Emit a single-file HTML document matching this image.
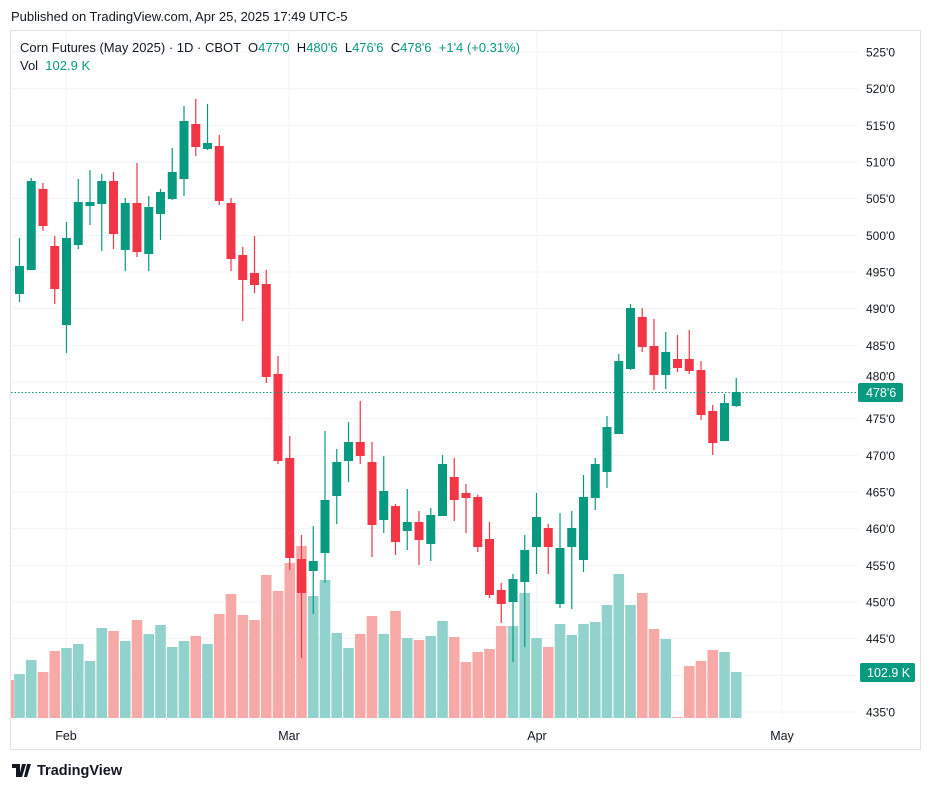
<!DOCTYPE html>
<html><head><meta charset="utf-8">
<style>
html,body{margin:0;padding:0;background:#fff;width:932px;height:789px;overflow:hidden;font-family:"Liberation Sans",sans-serif;}
svg{position:absolute;left:0;top:0}
</style></head><body>
<svg id="s" width="932" height="789" xmlns="http://www.w3.org/2000/svg" font-family="Liberation Sans, sans-serif"></svg>
<script>
const C=[
[266,294,238,302,1,674],[181,270,178,270,1,660],[189,226,183,231,0,672],[246,289,236,304,0,651],
[238,325,222,353,1,648],[202,245,179,249,1,644],[202,206,170,225,1,661],[181,204,174,251,1,628],
[181,234,172,249,0,631],[203,250,198,271,1,641],[203,252,163,257,0,620],[207,254,196,271,1,634],
[192,214,189,240,1,625],[172,199,148,200,1,647],[121,179,106,196,1,641],[124,147,99,156,0,636],
[143,149,104,150,1,644],[146,201,135,205,0,614],[203,259,198,271,0,594],[255,280,247,321,0,615],
[273,285,236,293,0,620],[284,377,270,383,0,575],[374,461,356,464,0,591],[458,558,436,570,0,563],
[559,593,535,658,0,546],[561,571,526,614,1,596],[500,553,431,583,1,580],[462,496,449,524,1,633],
[442,461,422,482,1,648],[442,456,401,464,0,634],[462,525,442,557,0,616],[491,520,456,533,1,634],
[506,542,504,555,0,611],[522,531,489,550,1,638],[522,540,511,565,0,640],[515,544,508,561,1,636],
[464,516,455,516,1,621],[477,500,458,521,0,637],[493,498,484,533,0,662],[497,547,495,552,0,652],
[539,595,522,598,0,649],[590,604,583,623,0,626],[579,602,574,662,1,626],[550,582,535,647,1,593],
[517,547,493,574,1,638],[528,547,524,574,0,647],[548,604,513,608,1,624],[528,547,511,609,1,635],
[497,560,475,572,1,624],[464,498,458,510,1,622],[427,472,416,488,1,605],[361,434,354,434,1,574],
[308,369,304,370,1,605],[317,347,308,352,0,593],[346,375,319,390,0,629],[352,375,332,389,1,639],
[359,368,335,372,0,717],[359,371,330,374,0,666],[370,415,361,420,0,661],[411,443,405,455,0,650],
[403,441,394,441,1,652],[392,406,378,407,1,672]];
let h='';
h+='<rect x="10.5" y="30.5" width="910" height="719" fill="none" stroke="#e0e3eb"/>';
for(let i=0;i<=18;i++){let p=525-5*i,y=52+i*36.667;
 h+=`<line x1="11" x2="858" y1="${y}" y2="${y}" stroke="#f0f3fa"/>`;
 if(p!=480&&p!=440) h+=`<text x="866" y="${y+4.5}" font-size="12" fill="#131722">${p}'0</text>`;}
h+=`<text x="866" y="${52+9*36.667+4.5-6}" font-size="12" fill="#131722">480'0</text>`;
[66,289,537,782].forEach((x,i)=>{h+=`<line x1="${x}" x2="${x}" y1="31" y2="718" stroke="#f0f3fa"/>`;
 h+=`<text x="${x}" y="740" font-size="12.5" fill="#131722" text-anchor="middle">${['Feb','Mar','Apr','May'][i]}</text>`;});
h+='<rect x="11" y="680" width="3" height="38" fill="#f7a9a7"/>';
C.forEach((c,i)=>{const x=19.5+i*11.75;const vc=c[4]?'#92d2cc':'#f7a9a7';
 h+=`<rect x="${x-5.3}" y="${c[5]}" width="10.6" height="${718-c[5]}" fill="${vc}"/>`;});
C.forEach((c,i)=>{const x=19.5+i*11.75;const col=c[4]?'#089981':'#f23645';
 h+=`<rect x="${x-0.6}" y="${c[2]}" width="1.2" height="${c[3]-c[2]}" fill="${col}"/>`;
 h+=`<rect x="${x-4.5}" y="${c[0]}" width="9" height="${Math.max(1,c[1]-c[0])}" fill="${col}"/>`;});
h+='<line x1="11" x2="858" y1="392.5" y2="392.5" stroke="#089981" stroke-dasharray="1.5,2"/>';
h+='<rect x="858" y="383" width="45" height="19" rx="2" fill="#089981"/><text x="866" y="397" font-size="12.5" fill="#fff">478\'6</text>';
h+='<rect x="860" y="663" width="55" height="19" rx="2" fill="#089981"/><text x="867" y="677" font-size="12.5" fill="#fff">102.9 K</text>';
h+='<text x="11" y="21" font-size="13" fill="#131722">Published on TradingView.com, Apr 25, 2025 17:49 UTC-5</text>';
h+='<text x="20" y="52" font-size="13" fill="#131722">Corn Futures (May 2025) · 1D · CBOT &#160;O<tspan fill="#089981">477\'0</tspan> &#160;H<tspan fill="#089981">480\'6</tspan> &#160;L<tspan fill="#089981">476\'6</tspan> &#160;C<tspan fill="#089981">478\'6</tspan> &#160;<tspan fill="#089981">+1\'4 (+0.31%)</tspan></text>';
h+='<text x="20" y="70" font-size="13" fill="#131722">Vol &#160;<tspan fill="#089981">102.9 K</tspan></text>';
h+='<path d="M12 764h8v13h-4v-9h-4z M22 764h4l-4 13h-3z M27 764h4l-4 13h-3z" fill="#131722"/>';
h+='<text x="37" y="775" font-size="14.5" font-weight="bold" fill="#131722">TradingView</text>';
document.getElementById('s').innerHTML=h;
</script>
</body></html>
